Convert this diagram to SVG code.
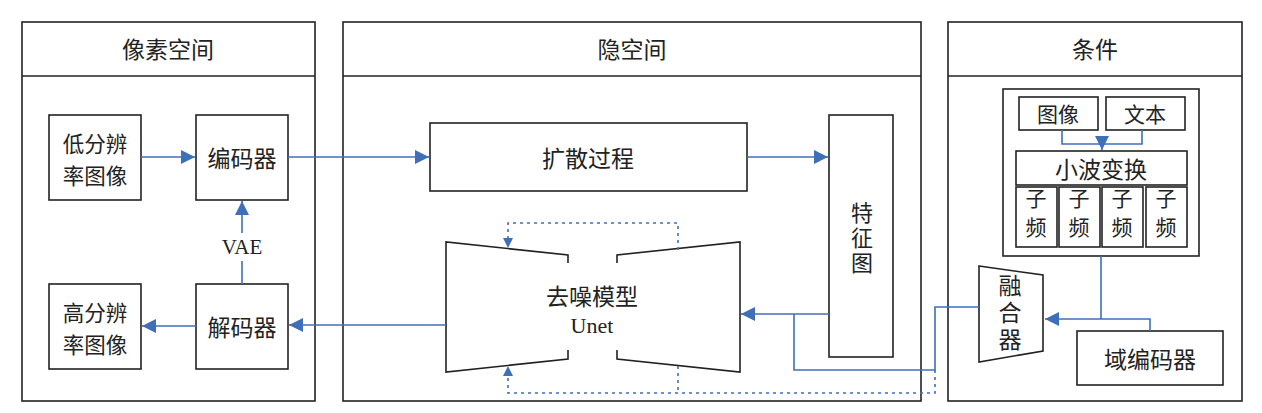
<svg xmlns="http://www.w3.org/2000/svg" width="1262" height="413" viewBox="0 0 1262 413">
<style>
.bx{fill:#fff;stroke:#222;stroke-width:1.6}
.ln{fill:none;stroke:#222;stroke-width:1.6}
.t{font-family:"Noto Sans CJK SC","Noto Sans CJK JP",sans-serif;font-size:23px;fill:#222;text-anchor:middle;dominant-baseline:central}
.t2{font-family:"Noto Sans CJK SC","Noto Sans CJK JP",sans-serif;font-size:21.5px;fill:#222;text-anchor:middle;dominant-baseline:central}
.v{font-family:"Noto Sans CJK SC","Noto Sans CJK JP",sans-serif;font-size:22px;fill:#222;text-anchor:middle;writing-mode:vertical-rl;letter-spacing:3px}
.s{font-family:"Noto Sans CJK SC",sans-serif;font-size:21px;fill:#222;text-anchor:middle;dominant-baseline:central}
.r{font-family:"Liberation Serif",serif;font-size:22px;fill:#222;text-anchor:middle;dominant-baseline:central}
.c{fill:none;stroke:#3f6fb8;stroke-width:1.6}
.d{fill:none;stroke:#3f6fb8;stroke-width:1.6;stroke-dasharray:3 4}
</style>
<defs>
<marker id="a" viewBox="0 0 10 10" refX="10" refY="5" markerWidth="14" markerHeight="14" markerUnits="userSpaceOnUse" orient="auto"><path d="M0,0 L10,5 L0,10 z" fill="#3f6fb8"/></marker>
</defs>
<rect width="1262" height="413" fill="#fff"/>
<g id="panel-pixel"><rect class="bx" x="22" y="22" width="293" height="379"/><line class="ln" x1="22" y1="76" x2="315" y2="76"/><text class="t" x="168" y="48">像素空间</text></g>
<g id="panel-latent"><rect class="bx" x="343" y="22" width="578" height="379"/><line class="ln" x1="343" y1="76" x2="921" y2="76"/><text class="t" x="632" y="48">隐空间</text></g>
<g id="panel-cond"><rect class="bx" x="948" y="22" width="294" height="379"/><line class="ln" x1="948" y1="76" x2="1242" y2="76"/><text class="t" x="1095" y="48">条件</text></g>
<g id="lowres"><rect class="bx" x="49" y="115" width="92" height="85"/><text class="t2" x="95" y="142">低分辨<tspan x="95" dy="31.5">率图像</tspan></text></g>
<g id="encoder"><rect class="bx" x="196" y="115" width="92" height="85"/><text class="t" x="242" y="157">编码器</text></g>
<g id="hires"><rect class="bx" x="49" y="284" width="92" height="85"/><text class="t2" x="95" y="311">高分辨<tspan x="95" dy="31.5">率图像</tspan></text></g>
<g id="decoder"><rect class="bx" x="196" y="284" width="92" height="85"/><text class="t" x="242" y="326">解码器</text></g>
<g id="diffusion"><rect class="bx" x="430" y="123" width="317" height="68"/><text class="t" x="588" y="157">扩散过程</text></g>
<g id="featmap"><rect class="bx" x="829" y="115" width="64" height="242"/><text class="v" x="862" y="239">特征图</text></g>
<g id="unet"><polyline class="ln" points="568,263 568,255 446,242 446,372 568,359 568,350"/><polyline class="ln" points="617,263 617,255 740,242 740,372 617,359 617,350"/><text class="t" x="592" y="295">去噪模型</text><text class="r" x="592" y="325">Unet</text></g>
<g id="condbox"><rect class="bx" x="1003" y="89" width="196" height="167"/></g>
<g id="image"><rect class="bx" x="1019" y="97" width="79" height="33"/><text class="s" x="1058" y="113">图像</text></g>
<g id="text"><rect class="bx" x="1106" y="97" width="79" height="33"/><text class="s" x="1145" y="113">文本</text></g>
<g id="wavelet"><rect class="bx" x="1016" y="151" width="171" height="34"/><text class="t" x="1101" y="168">小波变换</text></g>
<g id="sub1"><rect class="bx" x="1016" y="187" width="41" height="60"/><text class="v" x="1036" y="217" style="font-size:21px;letter-spacing:8px">子频</text></g>
<g id="sub2"><rect class="bx" x="1059" y="187" width="41" height="60"/><text class="v" x="1079" y="217" style="font-size:21px;letter-spacing:8px">子频</text></g>
<g id="sub3"><rect class="bx" x="1102" y="187" width="41" height="60"/><text class="v" x="1122" y="217" style="font-size:21px;letter-spacing:8px">子频</text></g>
<g id="sub4"><rect class="bx" x="1146" y="187" width="41" height="60"/><text class="v" x="1166" y="217" style="font-size:21px;letter-spacing:8px">子频</text></g>
<g id="fusion"><polygon class="bx" points="979,266 1043,275 1043,351 979,362"/><text class="v" x="1010" y="314" style="font-size:23px;letter-spacing:4px">融合器</text></g>
<g id="domainenc"><rect class="bx" x="1077" y="331" width="146" height="54"/><text class="t" x="1150" y="358">域编码器</text></g>
<g id="connectors">
<line class="c" x1="141" y1="157" x2="195" y2="157" marker-end="url(#a)"/>
<line class="c" x1="288" y1="157" x2="429" y2="157" marker-end="url(#a)"/>
<line class="c" x1="747" y1="157" x2="828" y2="157" marker-end="url(#a)"/>
<line class="c" x1="242" y1="284" x2="242" y2="261"/>
<line class="c" x1="242" y1="233" x2="242" y2="201" marker-end="url(#a)"/>
<text class="r" x="242" y="247" style="font-size:21px">VAE</text>
<line class="c" x1="196" y1="326" x2="142" y2="326" marker-end="url(#a)"/>
<line class="c" x1="446" y1="325" x2="289" y2="325" marker-end="url(#a)"/>
<line class="c" x1="829" y1="314" x2="741" y2="314" marker-end="url(#a)"/>
<polyline class="c" points="979,307 935,307 935,370 794,370 794,314"/>
<polyline class="d" points="935,370 935,393 508,393 508,367"/>
<path d="M508,366 l-5,10 h10 z" fill="#3f6fb8"/>
<line class="d" x1="678" y1="366" x2="678" y2="393"/>
<polyline class="d" points="678,250 678,223 508,223 508,238"/>
<path d="M508,248 l-5,-10 h10 z" fill="#3f6fb8"/>
<polyline class="c" points="1062,130 1062,144 1142,144 1142,130"/>
<line class="c" x1="1102" y1="144" x2="1102" y2="150" marker-end="url(#a)"/>
<line class="c" x1="1101" y1="256" x2="1101" y2="319"/>
<polyline class="c" points="1150,331 1150,319 1045,319" marker-end="url(#a)"/>
</g>
</svg>
